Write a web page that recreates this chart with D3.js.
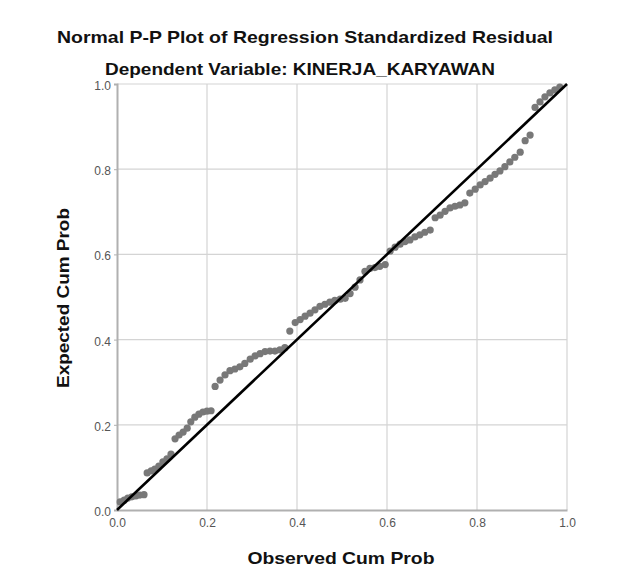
<!doctype html>
<html lang="en">
<head>
    <title>Normal P-P Plot</title>
    <script src="https://d3js.org/d3.v7.min.js"></script>
    <style type="text/css">
        body { margin: 0; background: #fff; }
        text { font-family: "Liberation Sans", Arial, sans-serif; }
    </style>
</head>

<body>
</body>

<script type="text/javascript">

    var width  = 620;
    var height = 575;

    var titleText    = "Normal P-P Plot of Regression Standardized Residual";
    var subtitleText = "Dependent Variable: KINERJA_KARYAWAN";
    var xLabel = "Observed Cum Prob";
    var yLabel = "Expected Cum Prob";
    var tickValues = [0, 0.2, 0.4, 0.6, 0.8, 1.0];

    // observed cum prob (x) and expected cum prob (y)
    var observed = [0.007,0.016,0.024,0.033,0.042,0.051,0.060,0.067,0.076,0.084,
                    0.093,0.102,0.111,0.120,0.129,0.138,0.147,0.156,0.164,0.173,
                    0.182,0.191,0.200,0.209,0.218,0.229,0.240,0.251,0.262,0.273,
                    0.284,0.296,0.307,0.318,0.329,0.340,0.351,0.362,0.373,0.384,
                    0.396,0.407,0.418,0.429,0.440,0.451,0.462,0.473,0.484,0.496,
                    0.507,0.518,0.529,0.540,0.551,0.562,0.573,0.584,0.596,0.607,
                    0.618,0.629,0.640,0.651,0.662,0.673,0.684,0.696,0.707,0.718,
                    0.729,0.740,0.751,0.762,0.773,0.784,0.796,0.807,0.818,0.829,
                    0.840,0.851,0.862,0.873,0.884,0.896,0.907,0.918,0.929,0.940,
                    0.951,0.962,0.973,0.984];
    var expected = [0.019,0.023,0.028,0.031,0.033,0.035,0.036,0.087,0.092,0.096,
                    0.103,0.113,0.120,0.131,0.167,0.176,0.183,0.192,0.207,0.218,
                    0.225,0.230,0.232,0.233,0.290,0.305,0.317,0.327,0.331,0.336,
                    0.344,0.354,0.362,0.367,0.372,0.373,0.373,0.376,0.381,0.420,
                    0.440,0.447,0.455,0.462,0.470,0.478,0.483,0.488,0.492,0.495,
                    0.497,0.508,0.523,0.540,0.560,0.567,0.569,0.572,0.576,0.608,
                    0.617,0.624,0.630,0.634,0.641,0.646,0.652,0.657,0.686,0.692,
                    0.701,0.709,0.713,0.716,0.721,0.744,0.753,0.763,0.771,0.779,
                    0.788,0.796,0.806,0.817,0.828,0.840,0.867,0.880,0.945,0.958,
                    0.970,0.979,0.986,0.993];
    var refLine = [0, 1];

    var points = observed.map((d,i)=>({x:d, y:expected[i]}));

    var plot = {left:117, right:567, top:84, bottom:510};

    var x = d3.scaleLinear().domain([0,1]).range([plot.left, plot.right]);
    var y = d3.scaleLinear().domain([0,1]).range([plot.bottom, plot.top]);

    var svg = d3.select("body")
        .append("svg")
        .attr("width",width)
        .attr("height",height)
        .style("background","#fff");

    // grid
    svg.append("g")
        .selectAll("line")
        .data(tickValues.slice(1))
        .enter()
        .append("line")
        .attr("x1", d=>x(d)).attr("x2", d=>x(d))
        .attr("y1", plot.top).attr("y2", plot.bottom)
        .attr("stroke","#d4d4d4").attr("stroke-width",1.2);

    svg.append("g")
        .selectAll("line")
        .data(tickValues.slice(1))
        .enter()
        .append("line")
        .attr("y1", d=>y(d)).attr("y2", d=>y(d))
        .attr("x1", plot.left).attr("x2", plot.right)
        .attr("stroke","#d4d4d4").attr("stroke-width",1.2);

    // axes
    var xAxis = svg.append("g")
        .attr("transform","translate(0,"+plot.bottom+")")
        .call(d3.axisBottom(x).tickValues(tickValues).tickFormat(d3.format(".1f")).tickSize(0).tickPadding(8));
    var yAxis = svg.append("g")
        .attr("transform","translate("+plot.left+",0)")
        .call(d3.axisLeft(y).tickValues(tickValues).tickFormat(d3.format(".1f")).tickSize(3).tickPadding(3));

    [xAxis, yAxis].forEach(function(a){
        a.select(".domain").attr("stroke","#b0b0b0").attr("stroke-width",2);
        a.selectAll(".tick line").attr("stroke","#b0b0b0");
        a.selectAll(".tick text")
            .attr("fill","#555")
            .style("font-size","12px")
            .style("font-family","'Liberation Sans', Arial, sans-serif");
    });
    yAxis.selectAll(".tick text").attr("dy","0.45em");

    // points
    svg.append("g")
        .selectAll("circle")
        .data(points)
        .enter()
        .append("circle")
        .attr("cx", d=>x(d.x))
        .attr("cy", d=>y(d.y))
        .attr("r", 3.6)
        .attr("fill", "#787878");

    // reference line
    svg.append("line")
        .attr("x1", x(refLine[0])).attr("y1", y(refLine[0]))
        .attr("x2", x(refLine[1])).attr("y2", y(refLine[1]))
        .attr("stroke","#000").attr("stroke-width",2.6);

    // titles
    function label(txt, tx, ty, len, rot) {
        var t = svg.append("text")
            .attr("text-anchor","middle")
            .attr("textLength", len)
            .attr("lengthAdjust","spacingAndGlyphs")
            .style("font-size","17px").style("font-weight","bold")
            .attr("fill","#111")
            .text(txt);
        if (rot) t.attr("transform","translate("+tx+","+ty+") rotate(-90)");
        else t.attr("x", tx).attr("y", ty);
    }

    label(titleText, 305, 43, 496);
    label(subtitleText, 300, 75, 390);
    label(xLabel, 341, 564, 187);
    label(yLabel, 69, 298, 180, true);

</script>

</html>
